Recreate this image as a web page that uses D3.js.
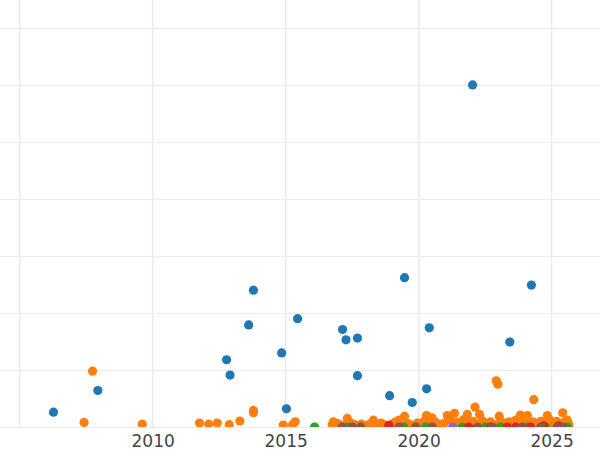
<!DOCTYPE html>
<html><head><meta charset="utf-8">
<script src="https://cdn.jsdelivr.net/npm/d3@7"></script>
<style>html,body{margin:0;padding:0;background:#fff;overflow:hidden}</style>
</head><body>
<svg id="chart" width="600" height="450"></svg>
<script>
// ---- data ----
const xTicks = [2005, 2010, 2015, 2020, 2025];
const xTickLabels = ["", "2010", "2015", "2020", "2025"];
const yTicks = [0, 10, 20, 30, 40, 50, 60, 70];

const blueYears = [2006.27, 2007.94, 2012.78, 2012.91, 2013.61, 2013.79, 2014.85, 2015.03, 2015.45, 2017.14, 2017.27, 2017.70, 2017.70, 2018.91, 2019.47, 2019.76, 2020.30, 2020.40, 2022.03, 2023.43, 2024.24];
const blueValues = [2.6, 6.4, 11.8, 9.1, 17.9, 24.0, 13.0, 3.2, 19.0, 17.1, 15.3, 15.6, 9.0, 5.5, 26.2, 4.3, 6.7, 17.4, 60.0, 14.9, 24.9];

const orangeYears = [2007.42, 2007.74, 2009.61, 2011.76, 2012.11, 2012.43, 2012.88, 2013.28, 2013.79, 2013.79, 2014.91, 2015.26, 2015.36, 2022.92, 2022.98, 2024.33,
  2016.80, 2017.32, 2018.30, 2019.25, 2019.47, 2020.30, 2020.51, 2021.08, 2021.35, 2021.83, 2022.12, 2022.29, 2023.03, 2023.83, 2024.09, 2024.84, 2025.42, 2025.59,
  2016.75, 2016.95, 2017.10, 2017.45, 2017.60, 2017.85, 2018.05, 2018.20, 2018.45, 2018.60, 2018.75, 2019.00, 2019.10, 2019.35, 2019.60, 2019.80, 2019.95, 2020.10, 2020.20, 2020.45, 2020.65, 2020.80, 2020.95, 2021.20, 2021.45, 2021.60, 2021.70, 2021.95, 2022.05, 2022.20, 2022.40, 2022.55, 2022.70, 2022.85, 2023.10, 2023.25, 2023.40, 2023.55, 2023.65, 2023.75, 2023.95, 2024.15, 2024.30, 2024.45, 2024.60, 2024.70, 2024.95, 2025.05, 2025.20, 2025.30, 2025.50, 2025.65];
const orangeValues = [0.8, 9.8, 0.5, 0.7, 0.5, 0.7, 0.4, 1.05, 2.9, 2.5, 0.35, 0.4, 0.9, 8.1, 7.5, 4.8,
  0.9, 1.5, 1.2, 1.2, 1.9, 2.0, 1.6, 2.0, 2.4, 2.2, 3.5, 2.2, 1.9, 2.1, 2.0, 2.0, 2.5, 1.2,
  0.4, 0.6, 0.3, 0.7, 0.4, 0.5, 0.3, 0.6, 0.4, 0.7, 0.3, 0.5, 0.8, 0.4, 0.6, 0.3, 0.7, 0.5, 1.0, 0.4, 0.8, 0.3, 0.6, 1.2, 0.8, 0.5, 1.3, 0.7, 1.0, 0.5, 1.1, 0.6, 0.9, 0.4, 1.0, 0.6, 0.9, 0.5, 1.2, 0.7, 1.1, 0.6, 0.9, 0.5, 1.0, 0.6, 1.2, 0.7, 1.0, 0.5, 0.9, 0.4];

const greenYears = [2016.09, 2017.32, 2019.44, 2020.26, 2021.64, 2022.52, 2023.08, 2024.09, 2024.77, 2025.59];
const greenValues = [0, 0, 0, 0, 0, 0, 0, 0, 0, 0];

const redYears = [2018.88, 2021.88, 2022.71, 2023.33, 2023.65, 2024.21, 2024.70, 2025.26];
const redValues = [0.3, 0, 0, 0, 0, 0, 0.2, 0.2];

const purpleYears = [2021.28];
const purpleValues = [0];

const brownYears = [2017.13, 2017.51, 2017.82, 2019.26, 2019.89, 2020.51, 2022.21, 2022.77, 2023.90, 2024.59, 2025.21, 2025.41];
const brownValues = [0, 0, 0, 0, 0, 0, 0, 0, 0, 0, 0, 0];

const seriesColors = ["#1f77b4", "#ff7f0e", "#2ca02c", "#d62728", "#9467bd", "#8c564b"];
// ---- chart ----
const W = 600, H = 450, plotBottom = 427;
const svg = d3.select("#chart");
const x = d3.scaleLinear().domain([2004.26, 2026.82]).range([0, W]);
const y = d3.scaleLinear().domain([0, 74.9]).range([plotBottom, 0]);

svg.append("defs").append("clipPath").attr("id", "clip")
  .append("rect").attr("x", 0).attr("y", 0).attr("width", W).attr("height", plotBottom);

const grid = svg.append("g");
grid.selectAll("line.h").data(yTicks).join("line").attr("class", "h")
  .attr("x1", 0).attr("x2", W)
  .attr("y1", d => Math.round(y(d)) + 0.5).attr("y2", d => Math.round(y(d)) + 0.5)
  .attr("stroke", "#ebebeb").attr("stroke-width", 1);
grid.selectAll("line.v").data(xTicks).join("line").attr("class", "v")
  .attr("x1", d => x(d)).attr("x2", d => x(d))
  .attr("y1", 0).attr("y2", plotBottom)
  .attr("stroke", "#ebebeb").attr("stroke-width", 1.6);

const series = [
  [blueYears, blueValues], [orangeYears, orangeValues], [greenYears, greenValues],
  [redYears, redValues], [purpleYears, purpleValues], [brownYears, brownValues]
];
const pts = svg.append("g").attr("clip-path", "url(#clip)");
series.forEach(([xs, vs], i) => {
  pts.append("g").selectAll("circle").data(xs.map((d, j) => [d, vs[j]])).join("circle")
    .attr("cx", d => x(d[0])).attr("cy", d => y(d[1])).attr("r", 4.6)
    .attr("fill", seriesColors[i]);
});

const xAxis = d3.axisBottom(x).tickValues(xTicks).tickFormat((d, i) => xTickLabels[i]).tickSize(0).tickPadding(0);
const ax = svg.append("g").attr("transform", `translate(0,${plotBottom})`).call(xAxis);
ax.select(".domain").remove();
ax.selectAll("text").attr("y", 20).attr("dy", 0)
  .attr("font-family", "DejaVu Sans, sans-serif").attr("font-size", 17).attr("fill", "#444");
</script>
</body></html>
